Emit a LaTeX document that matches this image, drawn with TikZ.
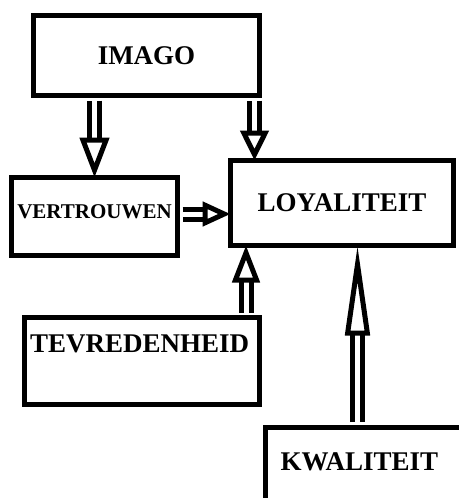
\documentclass[tikz,border=0pt]{standalone}
\usepackage{fontspec}
\setmainfont{Liberation Serif}
\usetikzlibrary{arrows.meta,positioning}

\begin{document}
\begin{tikzpicture}[
  x=1pt, y=-1pt,
  box/.style={draw, line width=5pt, inner sep=0pt,
              font=\fontsize{27}{29}\selectfont\bfseries},
  hollow/.style 2 args={double=white, double distance=5pt, line width=5pt,
              shorten <=2.5pt, shorten >=-2.5pt,
              -{Triangle[open, fill=white, length=#1, width=#2, line width=5pt]}},
]
\useasboundingbox (0,0) rectangle (458,498);

% ====== boxes ======
\node[box, minimum width=226pt, minimum height=80pt] (imago) at (146.5,55.5) {IMAGO};
\node[box, minimum width=166pt, minimum height=78pt, font=\fontsize{21}{23}\selectfont\bfseries,
      text height=13pt, text depth=9pt] (vertrouwen) at (94.5,216.5) {VERTROUWEN};
\node[box, minimum width=223pt, minimum height=85pt] (loyaliteit) at (342,203) {LOYALITEIT};
\node[box, minimum width=235pt, minimum height=87pt, inner xsep=5.5pt, text width=224pt, align=left,
      text height=18pt, text depth=36pt] (tevredenheid) at (142,361) {TEVREDENHEID};
\node[box, minimum width=260pt, minimum height=150pt, anchor=north west,
      inner xsep=15.5pt, text width=229pt, align=left,
      text height=18pt, text depth=81pt] (kwaliteit) at (262.5,424.5) {KWALITEIT};

% ====== arrows ======
\draw[hollow={40pt}{29pt}] (imago.south -| vertrouwen.north) -- (vertrouwen.north);
\draw[hollow={30pt}{28pt}] ([xshift=-7.5pt]imago.south east) -- ([xshift=-7.5pt]imago.south east |- loyaliteit.north);
\draw[hollow={28pt}{24pt}] ([yshift=2.5pt]vertrouwen.east) -- ([yshift=2.5pt]vertrouwen.east -| loyaliteit.west);
\draw[hollow={37pt}{27pt}] ([xshift=-16pt]tevredenheid.north east) -- ([xshift=-16pt]tevredenheid.north east |- loyaliteit.south);
\draw[hollow={90pt}{24pt}] ([xshift=95pt]kwaliteit.north west) -- ([xshift=95pt]kwaliteit.north west |- loyaliteit.south);

\end{tikzpicture}
\end{document}
